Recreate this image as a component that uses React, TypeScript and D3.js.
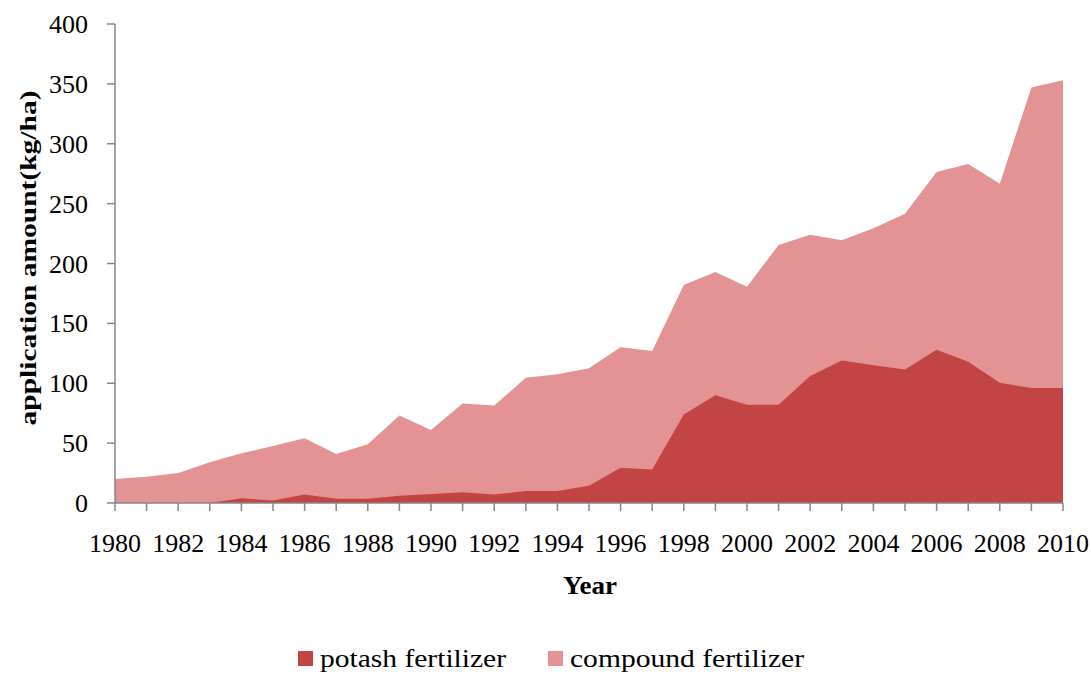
import React, { useRef, useEffect } from 'react';
import * as d3 from 'd3';

const years = d3.range(1980, 2011);

// kg/ha
const potash = [0, 0, 0, 0, 4, 2, 7, 3.5, 3.5, 6, 7.5, 9, 7, 10, 10, 14.5, 29.5, 28, 74, 90, 82, 82, 106, 119, 115, 111.5, 128, 118, 100.5, 96, 96];
const compound = [20, 22, 25, 34, 41.5, 47.5, 54, 41, 49, 73, 61, 83, 81.5, 104.5, 107.5, 112.5, 130, 127, 182, 193, 180.5, 215.5, 224, 219.5, 229.5, 241.5, 276.5, 283, 266.5, 347, 353];

const yTicks = [0, 50, 100, 150, 200, 250, 300, 350, 400];
const xLabelYears = d3.range(1980, 2011, 2);

const seriesNames = ['potash fertilizer', 'compound fertilizer'];
const seriesColors = ['#C34444', '#E39393'];

const FONT = '"Liberation Serif", "DejaVu Serif", serif';

const App = () => {
    const ref = useRef<SVGSVGElement | null>(null);

    useEffect(() => {
        const svg = d3.select(ref.current);
        svg.selectAll('*').remove();

        const left = 115, right = 1063, top = 24, bottom = 503;

        const x = d3.scaleLinear().domain([1980, 2010]).range([left, right]);
        const y = d3.scaleLinear().domain([0, 400]).range([bottom, top]);

        const area = (vals: number[]) => d3.area<number>()
            .x((d, i) => x(years[i]))
            .y0(y(0))
            .y1(d => y(d))(vals);

        // compound drawn behind, potash on top
        svg.append('path').attr('d', area(compound)).attr('fill', seriesColors[1]);
        svg.append('path').attr('d', area(potash)).attr('fill', seriesColors[0]);

        const axisColor = '#868686';

        // y axis
        const gy = svg.append('g');
        gy.append('line')
            .attr('x1', left).attr('x2', left)
            .attr('y1', y(400)).attr('y2', y(0))
            .attr('stroke', axisColor).attr('stroke-width', 1.5);
        yTicks.forEach(t => {
            gy.append('line')
                .attr('x1', left - 8).attr('x2', left)
                .attr('y1', y(t)).attr('y2', y(t))
                .attr('stroke', axisColor).attr('stroke-width', 1.5);
            gy.append('text')
                .attr('x', 88).attr('y', y(t))
                .attr('dy', '0.35em')
                .attr('text-anchor', 'end')
                .style('font-family', FONT).style('font-size', '26px')
                .text(t);
        });

        // x axis
        const gx = svg.append('g');
        gx.append('line')
            .attr('x1', left).attr('x2', right)
            .attr('y1', bottom).attr('y2', bottom)
            .attr('stroke', axisColor).attr('stroke-width', 1.5);
        years.forEach(yr => {
            gx.append('line')
                .attr('x1', x(yr)).attr('x2', x(yr))
                .attr('y1', bottom).attr('y2', bottom + 8)
                .attr('stroke', axisColor).attr('stroke-width', 1.5);
        });
        xLabelYears.forEach(yr => {
            gx.append('text')
                .attr('x', x(yr)).attr('y', 552)
                .attr('text-anchor', 'middle')
                .style('font-family', FONT).style('font-size', '26px')
                .text(yr);
        });

        // axis titles
        svg.append('text')
            .attr('x', 590).attr('y', 594)
            .attr('text-anchor', 'middle')
            .attr('textLength', 54).attr('lengthAdjust', 'spacingAndGlyphs')
            .style('font-family', FONT).style('font-size', '25px').style('font-weight', 'bold')
            .text('Year');

        svg.append('text')
            .attr('transform', `translate(36,${258}) rotate(-90)`)
            .attr('text-anchor', 'middle')
            .attr('textLength', 335).attr('lengthAdjust', 'spacingAndGlyphs')
            .style('font-family', FONT).style('font-size', '24px').style('font-weight', 'bold')
            .text('application amount(kg/ha)');

        // legend
        const legendX = [298, 548];
        const legendW = [186, 234];
        seriesNames.forEach((name, i) => {
            svg.append('rect')
                .attr('x', legendX[i]).attr('y', 651)
                .attr('width', 15).attr('height', 15)
                .attr('fill', seriesColors[i]);
            svg.append('text')
                .attr('x', legendX[i] + 22).attr('y', 667)
                .attr('textLength', legendW[i]).attr('lengthAdjust', 'spacingAndGlyphs')
                .style('font-family', FONT).style('font-size', '26px')
                .text(name);
        });
    }, []);

    return <svg ref={ref} width={1091} height={675}
        style={{ position: 'absolute', left: 0, top: 0, background: '#fff' }} />;
};

export default App;
